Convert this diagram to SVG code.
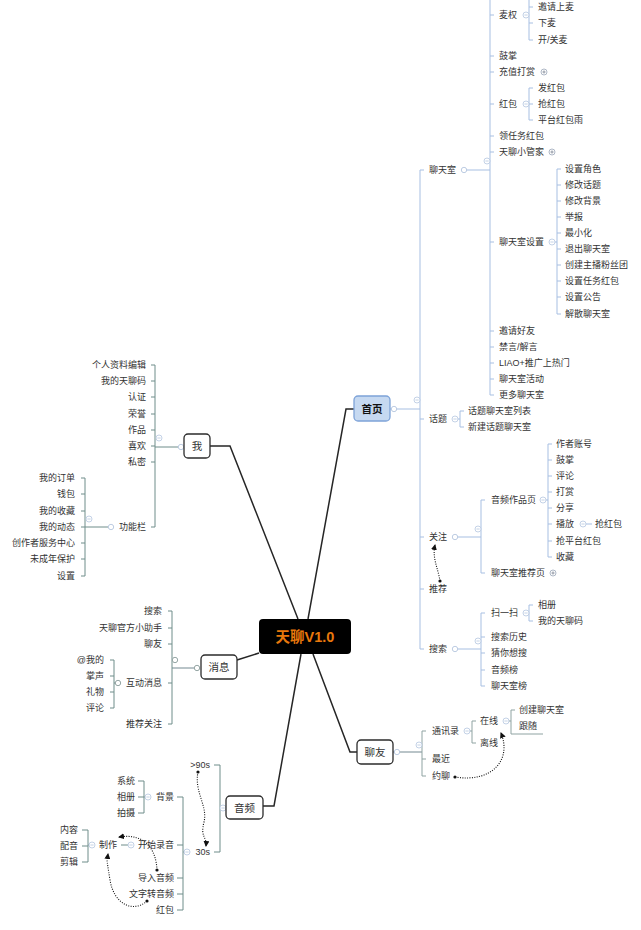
<svg xmlns="http://www.w3.org/2000/svg" xmlns:xlink="http://www.w3.org/1999/xlink" width="641" height="930" viewBox="0 0 641 930">
<style>
text{font-family:"Liberation Sans","Noto Sans CJK SC",sans-serif;font-size:9px;fill:#333;dominant-baseline:central}
.e{text-anchor:end}
.m{text-anchor:middle;font-size:10.5px}
.box{fill:#fff;stroke:#2b2b2b;stroke-width:1.3}
.lb{fill:none;stroke:#a7bfe2;stroke-width:1}
.lg{fill:none;stroke:#8fa3a2;stroke-width:1}
.ll{fill:none;stroke:#6f8d8a;stroke-width:1}
.main{fill:none;stroke:#262626;stroke-width:1.5}
.thick{fill:none;stroke:#b9c4c8;stroke-width:2}
.dash{fill:none;stroke:#111;stroke-width:1.1;stroke-dasharray:1 1.4}
</style>
<defs>
<g id="mn"><circle r="3" fill="#fff" stroke="#b5c6df" stroke-width="0.8"/><path d="M-1.6,0H1.6" stroke="#b5c6df" stroke-width="0.8"/></g>
<g id="pl"><circle r="3" fill="#fff" stroke="#9aa6b8" stroke-width="0.8"/><path d="M-1.6,0H1.6M0,-1.6V1.6" stroke="#7d8795" stroke-width="0.8"/></g>
<circle id="dt" r="2.7" fill="#fff" stroke="#b5c6df" stroke-width="0.9"/>
<circle id="dtg" r="2.7" fill="#fff" stroke="#8a9c9b" stroke-width="0.9"/>
<marker id="ah" markerWidth="6" markerHeight="6" refX="5" refY="3" orient="auto" markerUnits="userSpaceOnUse"><path d="M0,0L6,3L0,6z" fill="#111"/></marker>
<marker id="st" markerWidth="4" markerHeight="4" refX="2" refY="2" markerUnits="userSpaceOnUse"><circle cx="2" cy="2" r="1.6" fill="#111"/></marker>
</defs>

<g id="connectors">
<!-- main -->
<path class="main" d="M308,619L346,409H354"/>
<path class="main" d="M298,619L230,446H210"/>
<path class="main" d="M259,653L237,660"/>
<path class="main" d="M313,654L350,752H357"/>
<path class="main" d="M301,654L274,806H263"/>
<!-- 首页 -->
<path class="lb" d="M390,409H420"/>
<path class="lb" d="M424,170H420V649H424M420,419H424M420,537H424M420,589H424"/>
<path class="lb" d="M461,170H490"/>
<path class="lb" d="M494,-60H490V395H494M490,15H494M490,56H494M490,72H494M490,104H494M490,136H494M490,152H494M490,242H494M490,331H494M490,347H494M490,363H494M490,379H494"/>
<path class="lb" d="M523,15H529M533,-10H529V40H533M529,7H533M529,23H533"/>
<path class="lb" d="M523,104H529M533,88H529V120H533M529,104H533"/>
<path class="lb" d="M549,242H557M561,169H557V314H561M557,185H561M557,201H561M557,217H561M557,233H561M557,249H561M557,265H561M557,281H561M557,297H561"/>
<path class="lb" d="M452,419H460M464,411H460V427H464"/>
<path class="lb" d="M458,537H481M485,500H481V573H485"/>
<path class="lb" d="M540,500H548M552,444H548V557H552M548,460H552M548,476H552M548,492H552M548,508H552M548,524H552M548,541H552"/>
<path class="lb" d="M586,524H592"/>
<path class="lb" d="M458,649H481M485,613H481V686H485M481,637H485M481,653H485M481,670H485"/>
<path class="lb" d="M523,613H529M533,605H529V621H533"/>
<path class="dash" marker-start="url(#st)" marker-end="url(#ah)" d="M440,581C438,568 432,558 435,545"/>
<!-- 聊友 -->
<path class="thick" d="M393,752H422"/>
<path class="lg" d="M426,731H422V776H426M422,759H426"/>
<path class="lg" d="M464,731H472M476,721H472V743H476"/>
<path class="lg" d="M503,721H511M515,710H511V734H543"/>
<path class="dash" marker-start="url(#st)" marker-end="url(#ah)" d="M455,777C492,783 512,760 501,733"/>
<!-- 我 -->
<path class="ll" d="M178,447H155"/>
<path class="ll" d="M151,365H155V527H151M155,381H151M155,397H151M155,414H151M155,430H151M155,446H151M155,462H151"/>
<path class="ll" d="M108,527H85M81,478H85V576H81M85,494H81M85,511H81M85,527H81M85,543H81M85,559H81"/>
<!-- 消息 -->
<path class="thick" d="M194,668H172"/>
<path class="ll" d="M168,611H172V724H168M172,628H168M172,644H168M172,683H168"/>
<path class="ll" d="M115,683H114M110,660H114V708H110M114,676H110M114,692H110"/>
<!-- 音频 -->
<path class="ll" d="M214,765H220V852H214"/>
<path class="ll" d="M190,852H183M177,797H183V910H177M183,845H177M183,878H177M183,894H177"/>
<path class="ll" d="M145,797H144M138,781H144V813H138M144,797H138"/>
<path class="ll" d="M128,845H121"/>
<path class="ll" d="M89,845H88M82,830H88V862H82M88,846H82"/>
<path class="dash" marker-start="url(#st)" marker-end="url(#ah)" d="M198,772C194,792 208,806 204,822S207,836 206,846"/>
<path class="dash" marker-start="url(#st)" marker-end="url(#ah)" d="M157,870C156,848 144,833 119,837"/>
<path class="dash" marker-start="url(#st)" marker-end="url(#ah)" d="M147,901C134,913 114,905 110,880S107,862 108,854"/>
</g>

<g id="markers">
<use href="#dt" x="394" y="409"/><use href="#mn" x="417" y="400"/>
<use href="#dt" x="464" y="170"/><use href="#mn" x="487" y="161"/>
<use href="#mn" x="526" y="15"/><use href="#pl" x="544" y="72"/>
<use href="#mn" x="526" y="104"/><use href="#pl" x="552" y="152"/>
<use href="#mn" x="552" y="242"/>
<use href="#mn" x="455" y="419"/>
<use href="#dt" x="455" y="537"/><use href="#mn" x="478" y="529"/>
<use href="#mn" x="543" y="500"/><use href="#mn" x="583" y="524"/>
<use href="#pl" x="553" y="573"/>
<use href="#dt" x="455" y="649"/><use href="#mn" x="478" y="641"/>
<use href="#mn" x="526" y="613"/>
<use href="#dt" x="397" y="752"/><use href="#mn" x="419" y="745"/>
<use href="#mn" x="467" y="731"/><use href="#mn" x="506" y="721"/>
<use href="#dt" x="181" y="447"/><use href="#mn" x="159" y="438"/>
<use href="#dt" x="111" y="527"/><use href="#mn" x="89" y="519"/>
<use href="#dtg" x="197" y="668"/><use href="#dtg" x="175" y="660"/>
<use href="#dtg" x="118" y="683"/>
<use href="#mn" x="223" y="808"/>
<use href="#mn" x="187" y="852"/>
<use href="#mn" x="148" y="797"/>
<use href="#mn" x="131" y="845"/>
<use href="#mn" x="92" y="845"/>
</g>

<g id="root"><rect x="259" y="619" width="92" height="35" rx="4" fill="#000"/><text x="305" y="637" text-anchor="middle" style="font-size:14.5px;font-weight:bold;fill:#e8780c">天聊V1.0</text></g>
<g id="home"><rect x="354" y="396" width="36" height="25" rx="4" fill="#c6d9f1" stroke="#7ea3d8" stroke-width="1.3"/><text class="m" x="372" y="409" style="font-weight:bold;fill:#111">首页</text></g>
<g id="me"><rect class="box" x="184" y="434" width="26" height="24" rx="4"/><text class="m" x="197" y="446">我</text></g>
<g id="msg"><rect class="box" x="201" y="655" width="36" height="24" rx="4"/><text class="m" x="219" y="667">消息</text></g>
<g id="friend"><rect class="box" x="357" y="740" width="36" height="24" rx="4"/><text class="m" x="375" y="752">聊友</text></g>
<g id="audio"><rect class="box" x="226" y="796" width="37" height="23" rx="4"/><text class="m" x="244.5" y="808">音频</text></g>

<g id="home-items">
<g id="n-chatroom"><text x="429" y="170">聊天室</text></g>
<g id="n-maiquan"><text x="499" y="15">麦权</text></g>
<g id="n-m1"><text x="538" y="7">邀请上麦</text></g>
<g id="n-m2"><text x="538" y="23">下麦</text></g>
<g id="n-m3"><text x="538" y="40">开/关麦</text></g>
<g id="n-gz"><text x="499" y="56">鼓掌</text></g>
<g id="n-cz"><text x="499" y="72">充值打赏</text></g>
<g id="n-hb"><text x="499" y="104">红包</text></g>
<g id="n-hb1"><text x="538" y="88">发红包</text></g>
<g id="n-hb2"><text x="538" y="104">抢红包</text></g>
<g id="n-hb3"><text x="538" y="120">平台红包雨</text></g>
<g id="n-rw"><text x="499" y="136">领任务红包</text></g>
<g id="n-gj"><text x="499" y="152">天聊小管家</text></g>
<g id="n-set"><text x="499" y="242">聊天室设置</text></g>
<g id="n-s1"><text x="565" y="169">设置角色</text></g>
<g id="n-s2"><text x="565" y="185">修改话题</text></g>
<g id="n-s3"><text x="565" y="201">修改背景</text></g>
<g id="n-s4"><text x="565" y="217">举报</text></g>
<g id="n-s5"><text x="565" y="233">最小化</text></g>
<g id="n-s6"><text x="565" y="249">退出聊天室</text></g>
<g id="n-s7"><text x="565" y="265">创建主播粉丝团</text></g>
<g id="n-s8"><text x="565" y="281">设置任务红包</text></g>
<g id="n-s9"><text x="565" y="297">设置公告</text></g>
<g id="n-s10"><text x="565" y="314">解散聊天室</text></g>
<g id="n-yq"><text x="499" y="331">邀请好友</text></g>
<g id="n-jy"><text x="499" y="347">禁言/解言</text></g>
<g id="n-liao"><text x="499" y="363">LIAO+推广上热门</text></g>
<g id="n-hd"><text x="499" y="379">聊天室活动</text></g>
<g id="n-gd"><text x="499" y="395">更多聊天室</text></g>
<g id="n-ht"><text x="429" y="419">话题</text></g>
<g id="n-ht1"><text x="468" y="411">话题聊天室列表</text></g>
<g id="n-ht2"><text x="468" y="427">新建话题聊天室</text></g>
<g id="n-gzhu"><text x="429" y="537">关注</text></g>
<g id="n-yp"><text x="491" y="500">音频作品页</text></g>
<g id="n-y1"><text x="556" y="444">作者账号</text></g>
<g id="n-y2"><text x="556" y="460">鼓掌</text></g>
<g id="n-y3"><text x="556" y="476">评论</text></g>
<g id="n-y4"><text x="556" y="492">打赏</text></g>
<g id="n-y5"><text x="556" y="508">分享</text></g>
<g id="n-y6"><text x="556" y="524">播放</text></g>
<g id="n-y6a"><text x="595" y="524">抢红包</text></g>
<g id="n-y7"><text x="556" y="541">抢平台红包</text></g>
<g id="n-y8"><text x="556" y="557">收藏</text></g>
<g id="n-tj"><text x="491" y="573">聊天室推荐页</text></g>
<g id="n-rec"><text x="429" y="589">推荐</text></g>
<g id="n-ss"><text x="429" y="649">搜索</text></g>
<g id="n-sys"><text x="491" y="613">扫一扫</text></g>
<g id="n-sys1"><text x="538" y="605">相册</text></g>
<g id="n-sys2"><text x="538" y="621">我的天聊码</text></g>
<g id="n-ss1"><text x="491" y="637">搜索历史</text></g>
<g id="n-ss2"><text x="491" y="653">猜你想搜</text></g>
<g id="n-ss3"><text x="491" y="670">音频榜</text></g>
<g id="n-ss4"><text x="491" y="686">聊天室榜</text></g>
</g>

<g id="friend-items">
<g id="n-txl"><text x="432" y="731">通讯录</text></g>
<g id="n-zx"><text x="480" y="721">在线</text></g>
<g id="n-zx1"><text x="519" y="710">创建聊天室</text></g>
<g id="n-zx2"><text x="519" y="726">跟随</text></g>
<g id="n-lx"><text x="480" y="743">离线</text></g>
<g id="n-zj"><text x="432" y="759">最近</text></g>
<g id="n-yl"><text x="432" y="776">约聊</text></g>
</g>

<g id="me-items">
<g id="n-me1"><text class="e" x="146" y="365">个人资料编辑</text></g>
<g id="n-me2"><text class="e" x="146" y="381">我的天聊码</text></g>
<g id="n-me3"><text class="e" x="146" y="397">认证</text></g>
<g id="n-me4"><text class="e" x="146" y="414">荣誉</text></g>
<g id="n-me5"><text class="e" x="146" y="430">作品</text></g>
<g id="n-me6"><text class="e" x="146" y="446">喜欢</text></g>
<g id="n-me7"><text class="e" x="146" y="462">私密</text></g>
<g id="n-gnl"><text class="e" x="146" y="527">功能栏</text></g>
<g id="n-f1"><text class="e" x="75" y="478">我的订单</text></g>
<g id="n-f2"><text class="e" x="75" y="494">钱包</text></g>
<g id="n-f3"><text class="e" x="75" y="511">我的收藏</text></g>
<g id="n-f4"><text class="e" x="75" y="527">我的动态</text></g>
<g id="n-f5"><text class="e" x="75" y="543">创作者服务中心</text></g>
<g id="n-f6"><text class="e" x="75" y="559">未成年保护</text></g>
<g id="n-f7"><text class="e" x="75" y="576">设置</text></g>
</g>

<g id="msg-items">
<g id="n-x1"><text class="e" x="162" y="611">搜索</text></g>
<g id="n-x2"><text class="e" x="162" y="628">天聊官方小助手</text></g>
<g id="n-x3"><text class="e" x="162" y="644">聊友</text></g>
<g id="n-x4"><text class="e" x="162" y="683">互动消息</text></g>
<g id="n-x5"><text class="e" x="162" y="724">推荐关注</text></g>
<g id="n-h1"><text class="e" x="104" y="660">@我的</text></g>
<g id="n-h2"><text class="e" x="104" y="676">掌声</text></g>
<g id="n-h3"><text class="e" x="104" y="692">礼物</text></g>
<g id="n-h4"><text class="e" x="104" y="708">评论</text></g>
</g>

<g id="audio-items">
<g id="n-90"><text class="e" x="210" y="765">&gt;90s</text></g>
<g id="n-30"><text class="e" x="210" y="852">30s</text></g>
<g id="n-bj"><text class="e" x="174" y="797">背景</text></g>
<g id="n-bj1"><text class="e" x="135" y="781">系统</text></g>
<g id="n-bj2"><text class="e" x="135" y="797">相册</text></g>
<g id="n-bj3"><text class="e" x="135" y="813">拍摄</text></g>
<g id="n-ks"><text class="e" x="174" y="845">开始录音</text></g>
<g id="n-zz"><text class="e" x="117" y="845">制作</text></g>
<g id="n-zz1"><text class="e" x="78" y="830">内容</text></g>
<g id="n-zz2"><text class="e" x="78" y="846">配音</text></g>
<g id="n-zz3"><text class="e" x="78" y="862">剪辑</text></g>
<g id="n-dr"><text class="e" x="174" y="878">导入音频</text></g>
<g id="n-wz"><text class="e" x="174" y="894">文字转音频</text></g>
<g id="n-hbb"><text class="e" x="174" y="910">红包</text></g>
</g>
</svg>
